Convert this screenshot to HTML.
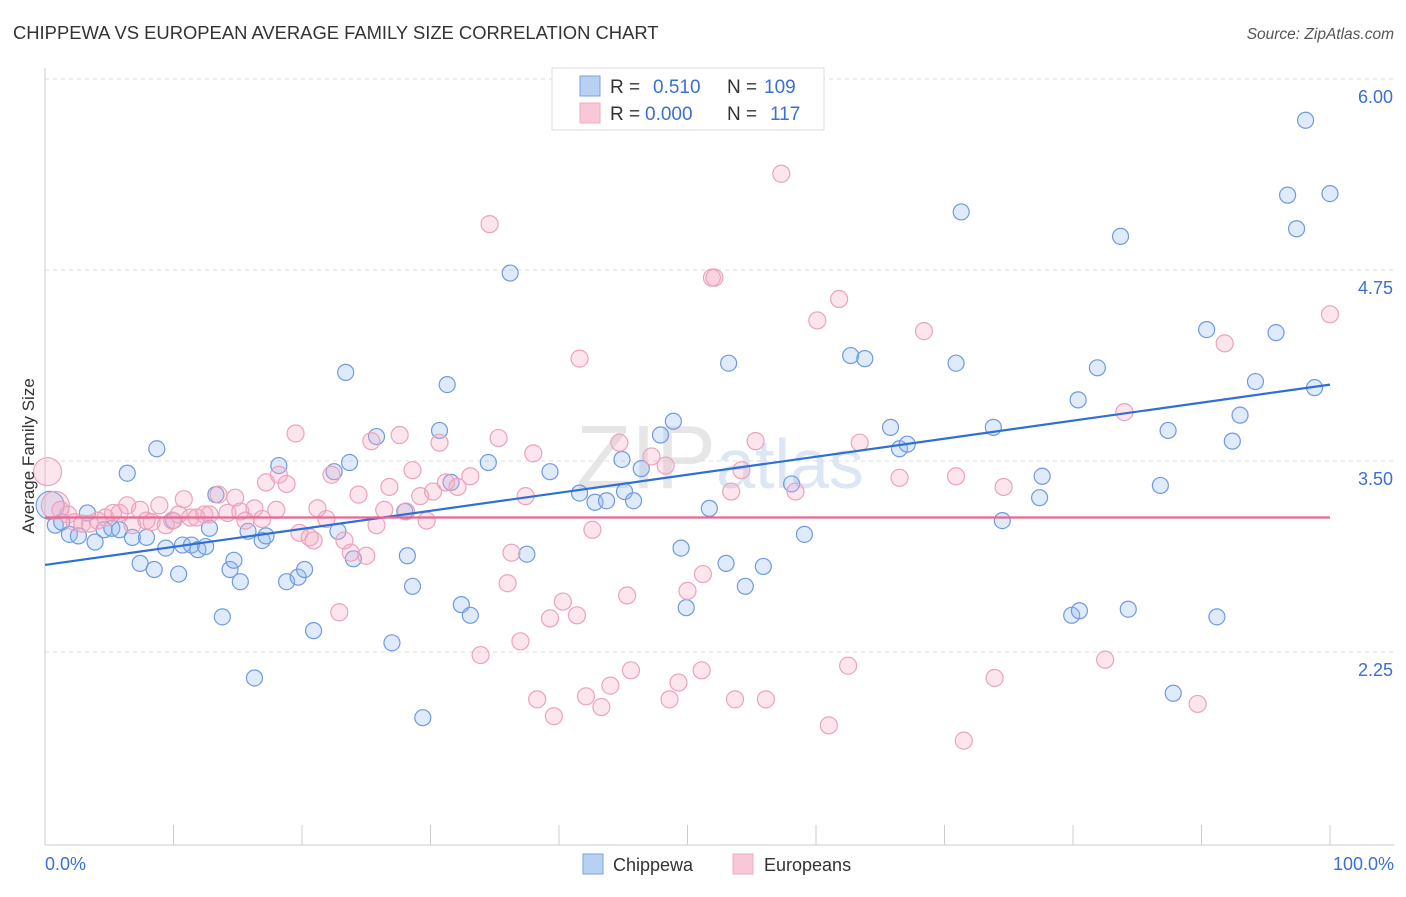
<!DOCTYPE html>
<html><head><meta charset="utf-8"><style>
body{margin:0;background:#fff;font-family:"Liberation Sans",sans-serif;}
svg text{font-family:"Liberation Sans",sans-serif;}
</style></head><body>
<svg id="chart" width="1406" height="892" xmlns="http://www.w3.org/2000/svg">
<text x="13" y="39" font-size="18.4" fill="#333">CHIPPEWA VS EUROPEAN AVERAGE FAMILY SIZE CORRELATION CHART</text>
<text x="1394" y="39" font-size="15.5" fill="#555" text-anchor="end" font-style="italic">Source: ZipAtlas.com</text>
<text x="720" y="488" font-size="90" fill="#e6e6e6" text-anchor="middle" font-family="Liberation Serif">ZIP<tspan fill="#dce6f5" font-family="Liberation Sans" font-size="70">atlas</tspan></text>
<g id="grid"></g>
<g id="axes"></g>
<g id="blue"></g>
<g id="pink"></g>
<g id="trends"></g>
<text transform="translate(34,456) rotate(-90)" font-size="17" fill="#333" text-anchor="middle">Average Family Size</text>
<g>
<rect x="552" y="68" width="272" height="62" fill="#fff" stroke="#ddd"/>
<rect x="580" y="76" width="20" height="20" fill="#b8d0f2" stroke="#7aa3e0"/>
<text x="610" y="93" font-size="19" fill="#333">R =</text><text x="653" y="93" font-size="19" fill="#3a6fd8">0.510</text>
<text x="727" y="93" font-size="19" fill="#333">N =</text><text x="764" y="93" font-size="19" fill="#3a6fd8">109</text>
<rect x="580" y="103" width="20" height="20" fill="#f8c8d8" stroke="#eeaac0"/>
<text x="610" y="120" font-size="19" fill="#333">R =</text><text x="645" y="120" font-size="19" fill="#3a6fd8">0.000</text>
<text x="727" y="120" font-size="19" fill="#333">N =</text><text x="770" y="120" font-size="19" fill="#3a6fd8">117</text>
</g>
<g>
<rect x="583" y="854" width="20" height="20" fill="#b8d0f2" stroke="#7aa3e0"/>
<text x="613" y="871" font-size="18" fill="#333">Chippewa</text>
<rect x="733" y="854" width="20" height="20" fill="#f8c8d8" stroke="#eeaac0"/>
<text x="764" y="871" font-size="18" fill="#333">Europeans</text>
</g>
</svg>
<script>
const yTicks=[6.00,4.75,3.50,2.25];
const yTickLabels=["6.00","4.75","3.50","2.25"];
const xTickLabels=["0.0%","100.0%"];
const blueX=[0.8,1.3,1.9,2.6,3.3,3.9,4.6,5.2,5.8,6.4,6.8,7.4,7.9,8.5,8.7,9.4,10.0,10.4,10.7,11.4,11.9,12.5,12.8,13.3,13.8,14.4,14.7,15.2,15.8,16.3,16.9,17.2,18.2,18.8,19.7,20.2,20.9,22.5,22.8,23.4,23.7,24.0,25.8,27.0,28.0,28.2,28.6,29.4,30.7,31.3,31.6,32.4,33.1,34.5,36.2,37.5,39.3,41.6,42.8,43.7,44.9,45.1,45.8,46.4,47.9,48.9,49.5,49.9,51.7,53.0,53.2,54.5,55.9,58.1,59.1,62.7,63.8,65.8,66.5,67.1,70.9,71.3,73.8,74.5,77.4,77.6,79.9,80.5,80.4,81.9,83.7,84.3,86.8,87.4,87.8,90.4,91.2,92.4,93.0,94.2,95.8,96.7,97.4,98.1,98.8,100,0.4];
const blueY=[3.08,3.10,3.02,3.01,3.16,2.97,3.05,3.06,3.05,3.42,3.00,2.83,3.00,2.79,3.58,2.93,3.11,2.76,2.95,2.95,2.92,2.94,3.06,3.28,2.48,2.79,2.85,2.71,3.04,2.08,2.98,3.01,3.47,2.71,2.74,2.79,2.39,3.43,3.04,4.08,3.49,2.86,3.66,2.31,3.17,2.88,2.68,1.82,3.70,4.00,3.36,2.56,2.49,3.49,4.73,2.89,3.43,3.29,3.23,3.24,3.51,3.30,3.24,3.45,3.67,3.76,2.93,2.54,3.19,2.83,4.14,2.68,2.81,3.35,3.02,4.19,4.17,3.72,3.58,3.61,4.14,5.13,3.72,3.11,3.26,3.40,2.49,2.52,3.90,4.11,4.97,2.53,3.34,3.70,1.98,4.36,2.48,3.63,3.80,4.02,4.34,5.24,5.02,5.73,3.98,5.25,3.21];
const blueR=blueX.map((v,i)=>i===blueX.length-1?14:8);
const pinkX=[0.2,0.8,1.2,1.8,2.3,2.9,3.5,4.1,4.7,5.3,5.8,6.4,6.8,7.4,7.9,8.3,8.9,9.4,9.9,10.4,10.8,11.3,11.8,12.4,12.8,13.5,14.2,14.8,15.2,15.6,16.3,16.9,17.2,18.0,18.2,18.8,19.5,19.8,20.6,20.9,21.2,21.9,22.3,22.9,23.3,23.8,24.4,25.0,25.4,25.8,26.4,26.8,27.6,28.1,28.6,29.2,29.7,30.2,30.7,31.2,32.1,33.1,33.9,34.6,35.3,36.0,36.3,37.0,37.4,38.0,38.3,39.3,39.6,40.3,41.4,41.6,42.1,42.6,43.3,44.0,44.7,45.3,45.6,47.2,48.3,48.6,49.3,50.0,51.1,51.2,51.9,52.1,53.4,53.7,54.2,55.3,56.1,57.3,58.4,60.1,61.0,61.8,62.5,63.4,66.5,68.4,70.9,71.5,73.9,74.6,82.5,84.0,89.7,91.8,100];
const pinkY=[3.43,3.21,3.18,3.15,3.10,3.09,3.09,3.11,3.13,3.16,3.16,3.21,3.08,3.18,3.11,3.10,3.21,3.08,3.11,3.15,3.25,3.13,3.13,3.15,3.15,3.28,3.16,3.26,3.17,3.11,3.19,3.12,3.36,3.18,3.41,3.35,3.68,3.03,3.00,2.98,3.19,3.12,3.41,2.51,2.98,2.90,3.28,2.88,3.63,3.08,3.18,3.33,3.67,3.17,3.44,3.27,3.11,3.30,3.62,3.36,3.33,3.40,2.23,5.05,3.65,2.70,2.90,2.32,3.27,3.55,1.94,2.47,1.83,2.58,2.49,4.17,1.96,3.05,1.89,2.03,3.62,2.62,2.13,3.53,3.47,1.94,2.05,2.65,2.13,2.76,4.70,4.70,3.30,1.94,3.44,3.63,1.94,5.38,3.30,4.42,1.77,4.56,2.16,3.62,3.39,4.35,3.40,1.67,2.08,3.33,2.20,3.82,1.91,4.27,4.46];
const pinkR=pinkX.map((v,i)=>i<2?14:8.5);
const blueTrend=[2.82,4.00]; // value at x=0 and x=100
const pinkTrend=[3.13,3.13];

const X0=45,X1=1330,yRef=461,pxPerUnit=152.8;
const sx=v=>X0+(X1-X0)*v/100;
const sy=v=>yRef-(v-3.5)*pxPerUnit;
const NS="http://www.w3.org/2000/svg";
function mk(tag,attrs,parent){const e=document.createElementNS(NS,tag);for(const k in attrs)e.setAttribute(k,attrs[k]);parent.appendChild(e);return e;}
const grid=document.getElementById('grid'),axes=document.getElementById('axes');
yTicks.forEach((t,i)=>{
  const l=mk('line',{x1:45,x2:1394,y1:sy(t),y2:sy(t),stroke:'#dcdcdc','stroke-dasharray':'4,4'},grid);
  
  
  const tx=mk('text',{x:1393,y:sy(t)+24,'font-size':18,fill:'#3a6fd8','text-anchor':'end'},axes);
  tx.textContent=yTickLabels[i];
  
  
});
mk('line',{x1:45,x2:45,y1:68,y2:845,stroke:'#ccc'},axes);
mk('line',{x1:45,x2:1394,y1:845,y2:845,stroke:'#ccc'},axes);
for(let i=0;i<=10;i++){
  const t=mk('line',{x1:sx(i*10),x2:sx(i*10),y1:825,y2:845,stroke:'#ccc'},axes);
  
  
}
const xl0=mk('text',{x:45,y:870,'font-size':18,fill:'#3a6fd8'},axes);xl0.textContent=xTickLabels[0];


const xl1=mk('text',{x:1394,y:870,'font-size':18,fill:'#3a6fd8','text-anchor':'end'},axes);xl1.textContent=xTickLabels[1];


const bg=document.getElementById('blue');
blueX.forEach((x,i)=>{
  const c=mk('circle',{cx:sx(x),cy:sy(blueY[i]),r:blueR[i],fill:'rgba(150,185,240,0.3)',stroke:'#6f9ae0','stroke-width':1.2},bg);
  
  
});
const pg=document.getElementById('pink');
pinkX.forEach((x,i)=>{
  const c=mk('circle',{cx:sx(x),cy:sy(pinkY[i]),r:pinkR[i],fill:'rgba(245,170,195,0.3)',stroke:'#eba3bb','stroke-width':1.2},pg);
  
  
});
const tg=document.getElementById('trends');
const bl=mk('line',{x1:sx(0),y1:sy(blueTrend[0]),x2:sx(100),y2:sy(blueTrend[1]),stroke:'#2f6fd6','stroke-width':2.2},tg);


const pl=mk('line',{x1:sx(0),y1:sy(pinkTrend[0]),x2:sx(100),y2:sy(pinkTrend[1]),stroke:'#e8668f','stroke-width':2.2},tg);


</script>
</body></html>
